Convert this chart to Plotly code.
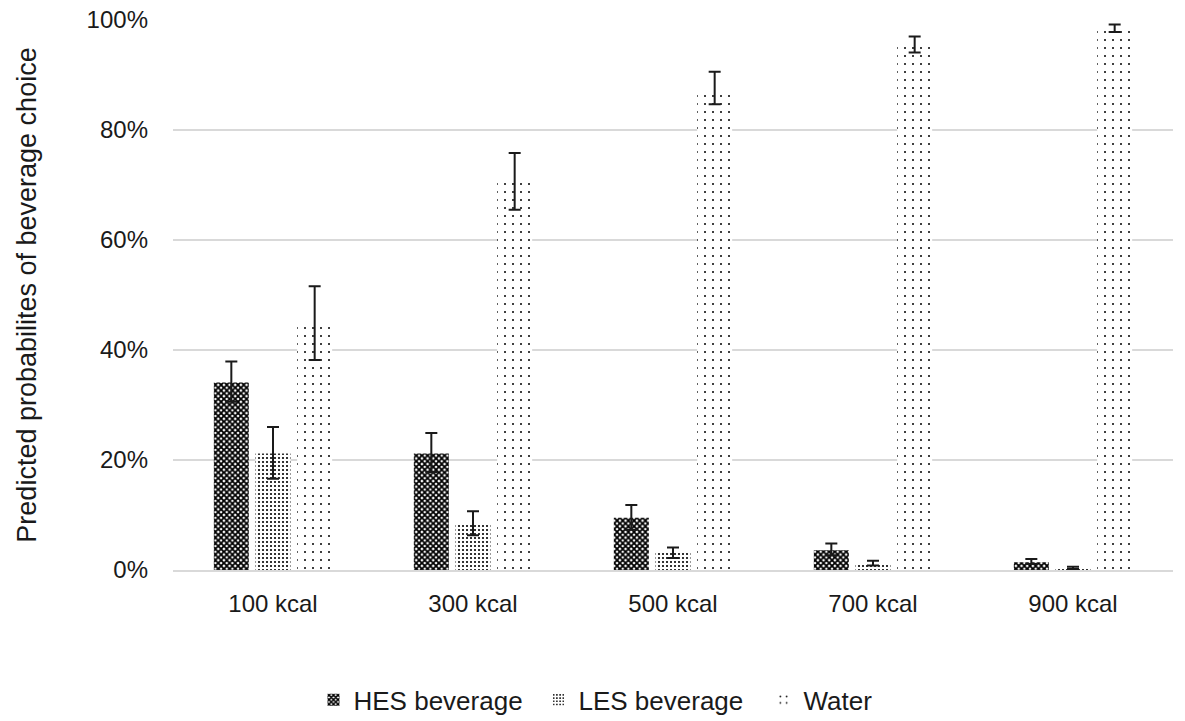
import plotly.graph_objects as go

categories = ["100 kcal", "300 kcal", "500 kcal", "700 kcal", "900 kcal"]

hes = [0.341, 0.212, 0.095, 0.036, 0.014]
hes_hi = [0.379, 0.249, 0.118, 0.048, 0.020]
hes_lo = [0.306, 0.178, 0.073, 0.027, 0.011]

les = [0.212, 0.085, 0.031, 0.012, 0.004]
les_hi = [0.260, 0.107, 0.041, 0.017, 0.006]
les_lo = [0.166, 0.063, 0.022, 0.008, 0.002]

water = [0.448, 0.709, 0.871, 0.951, 0.981]
water_hi = [0.516, 0.758, 0.906, 0.970, 0.992]
water_lo = [0.382, 0.655, 0.847, 0.941, 0.978]

series = [
    ("HES beverage", hes, hes_hi, hes_lo, dict(shape="x", size=4, solidity=0.7, fgcolor="black", bgcolor="white", fgopacity=1)),
    ("LES beverage", les, les_hi, les_lo, dict(shape=".", size=4, solidity=0.22, fgcolor="black", bgcolor="white", fgopacity=1)),
    ("Water", water, water_hi, water_lo, dict(shape=".", size=8, solidity=0.05, fgcolor="black", bgcolor="white", fgopacity=1)),
]

fig = go.Figure()
for name, vals, hi, lo, pat in series:
    fig.add_trace(go.Bar(
        name=name, x=categories, y=vals,
        marker=dict(color="white", pattern=pat, line=dict(width=0)),
        error_y=dict(type="data", symmetric=False,
                     array=[h - v for h, v in zip(hi, vals)],
                     arrayminus=[v - l for v, l in zip(vals, lo)],
                     color="#1a1a1a", thickness=2, width=6),
    ))

font_family = "Liberation Sans, Arial, sans-serif"
fig.update_layout(
    width=1185, height=721,
    margin=dict(l=173, r=12, t=20, b=151, autoexpand=False),
    paper_bgcolor="white", plot_bgcolor="white",
    barmode="group", bargap=0.375, bargroupgap=0.16,
    font=dict(family=font_family, size=24, color="#1a1a1a"),
    showlegend=True,
    legend=dict(orientation="h", x=0.478, xanchor="center", y=-0.236, yanchor="middle",
                font=dict(size=26), itemwidth=30, entrywidth=180, entrywidthmode="pixels"),
    xaxis=dict(showgrid=False, showline=True, linecolor="#d9d9d9", linewidth=2,
               ticks="", tickfont=dict(size=24), ticklabelstandoff=11),
    yaxis=dict(range=[0, 1], dtick=0.2, tickformat=".0%", showgrid=True,
               gridcolor="#d9d9d9", gridwidth=2, zeroline=False, showline=False,
               ticks="", tickfont=dict(size=24), ticklabelstandoff=24,
               title=dict(text="Predicted probabilites of beverage choice",
                          font=dict(size=27), standoff=42)),
)

fig.write_html("out.html")
